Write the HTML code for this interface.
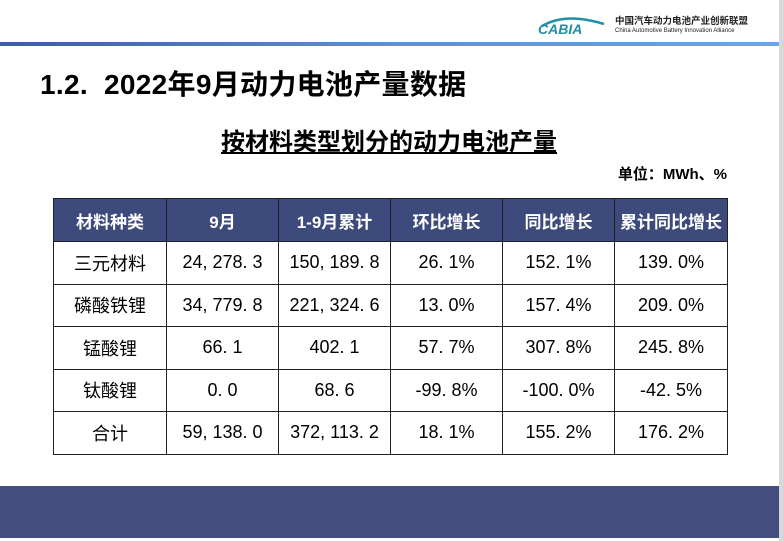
<!DOCTYPE html>
<html><head><meta charset="utf-8"><style>
*{margin:0;padding:0;box-sizing:border-box}
body{width:783px;height:541px;position:relative;background:#fff;overflow:hidden;font-family:"Liberation Sans","Noto Sans CJK SC",sans-serif;color:#000}
.abs{position:absolute}
table{position:absolute;left:53px;top:198px;border-collapse:collapse;table-layout:fixed}
td,th{border:1.5px solid #222;text-align:center;font-size:18px;height:42.5px;padding:0}
th{background:#3d4a7c;color:#fff;font-weight:bold;font-size:17px;height:43px}
</style></head><body>
<div class="abs" style="left:779px;top:0;width:4px;height:541px;background:#d8d8d8"></div>
<div class="abs" style="left:0;top:42px;width:779px;height:4px;background:linear-gradient(90deg,#3c5ca8,#5f8fd0,#6aa6e8)"></div>
<div class="abs" style="left:536px;top:14px;width:72px;height:22px">
<svg width="72" height="22"><path d="M6 12 Q30 -2 68 10" stroke="#1f8fa8" stroke-width="2.5" fill="none"/><text x="2" y="20" font-size="14" font-style="italic" font-weight="bold" fill="#1f8fa8" font-family="Liberation Sans">CABIA</text></svg></div>
<div class="abs" style="left:615px;top:16px;font-size:9.5px;font-weight:bold;color:#222;line-height:11px">中国汽车动力电池产业创新联盟<div style="font-size:6px;line-height:8px;font-weight:normal">China Automotive Battery Innovation Alliance</div></div>
<div class="abs" style="left:40px;top:63px;font-size:28px;font-weight:bold;white-space:nowrap;letter-spacing:0.3px">1.2.&nbsp;&nbsp;2022年9月动力电池产量数据</div>
<div class="abs" style="left:221px;top:122px;font-size:24px;font-weight:bold;text-decoration:underline;white-space:nowrap">按材料类型划分的动力电池产量</div>
<div class="abs" style="right:56px;top:163px;font-size:15px;font-weight:bold;white-space:nowrap">单位：MWh、%</div>
<table>
<colgroup><col style="width:113px"><col style="width:112px"><col style="width:112px"><col style="width:112px"><col style="width:112px"><col style="width:113px"></colgroup>
<tr><th>材料种类</th><th>9月</th><th>1-9月累计</th><th>环比增长</th><th>同比增长</th><th>累计同比增长</th></tr>
<tr><td>三元材料</td><td>24, 278. 3</td><td>150, 189. 8</td><td>26. 1%</td><td>152. 1%</td><td>139. 0%</td></tr>
<tr><td>磷酸铁锂</td><td>34, 779. 8</td><td>221, 324. 6</td><td>13. 0%</td><td>157. 4%</td><td>209. 0%</td></tr>
<tr><td>锰酸锂</td><td>66. 1</td><td>402. 1</td><td>57. 7%</td><td>307. 8%</td><td>245. 8%</td></tr>
<tr><td>钛酸锂</td><td>0. 0</td><td>68. 6</td><td>-99. 8%</td><td>-100. 0%</td><td>-42. 5%</td></tr>
<tr><td>合计</td><td>59, 138. 0</td><td>372, 113. 2</td><td>18. 1%</td><td>155. 2%</td><td>176. 2%</td></tr>
</table>
<div class="abs" style="left:0;top:486px;width:779px;height:52px;background:#434d7e"></div>
</body></html>
